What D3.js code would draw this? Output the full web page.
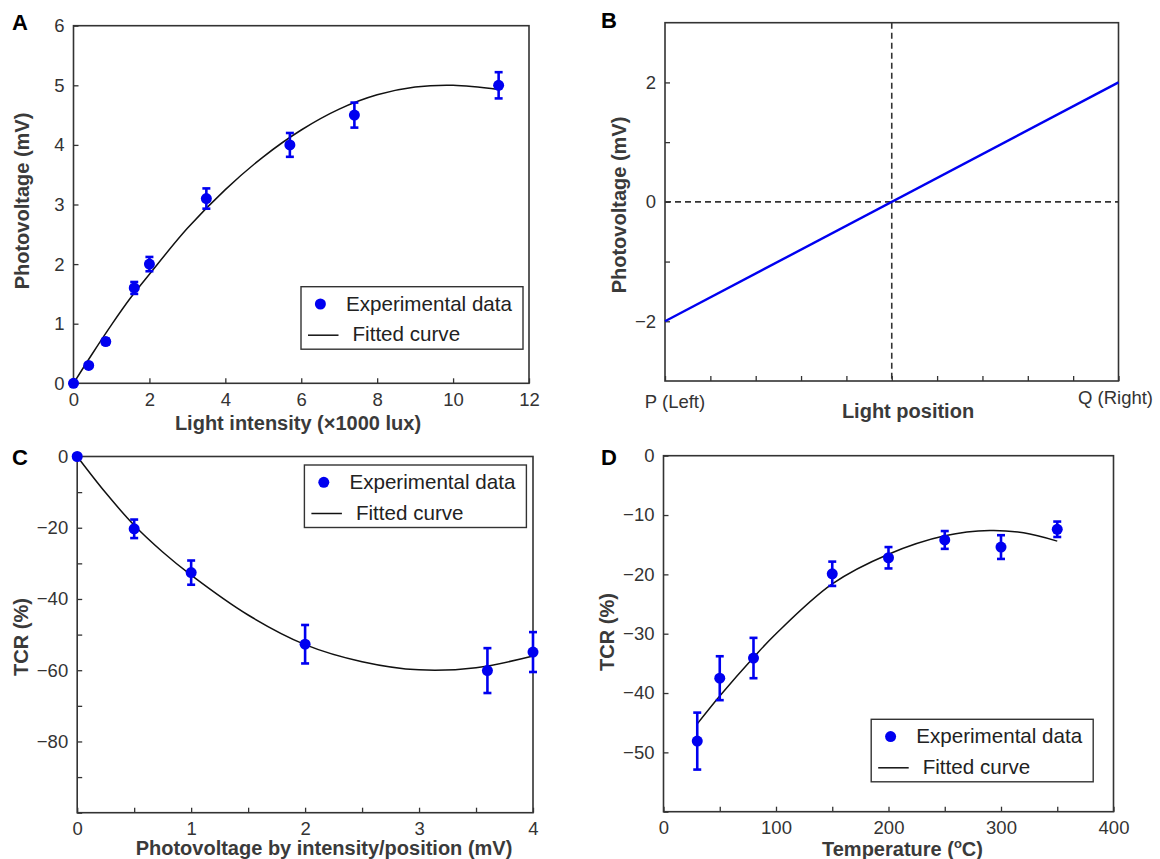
<!DOCTYPE html>
<html>
<head>
<meta charset="utf-8">
<script src="https://cdn.jsdelivr.net/npm/d3@7"></script>
<style>
  body { margin: 0; background: #fff; }
  svg { display: block; font-family: "Liberation Sans", Arial, sans-serif; }
  .tick text { fill: #333; font-size: 18.5px; }
  .tick line { stroke: #333; stroke-width: 1.3; }
  .domain { display: none; }
  .frame { fill: none; stroke: #333; stroke-width: 1.6; }
  .title { font-weight: bold; font-size: 20px; fill: #3a3a3a; }
  .letter { font-weight: bold; font-size: 22px; fill: #000; }
  .legend text { font-size: 20.6px; fill: #222; }
</style>
</head>
<body>
<div class="figure"></div>
<script>
const W = 1160, H = 859;
const BLUE = '#0000f0';

// A: photovoltage vs light intensity
const aLight = [0, 0.4, 0.85, 1.6, 2, 3.5, 5.7, 7.4, 11.2];
const aVolt  = [0, 0.3, 0.7, 1.6, 2.0, 3.1, 4.0, 4.5, 5.0];
const aErr   = [0, 0, 0.05, 0.1, 0.12, 0.17, 0.2, 0.21, 0.22];
const aFitX  = [0, 0.5, 1, 1.5, 2, 3, 4, 5, 6, 7, 8, 9, 10, 11.2];
const aFitY  = [0, 0.5, 0.98, 1.43, 1.83, 2.6, 3.25, 3.8, 4.25, 4.6, 4.84, 4.97, 5.0, 4.93];

// B: photovoltage vs light position
const bPos  = [0, 10];
const bVolt = [-2, 2];

// C: TCR vs photovoltage
const cVolt = [0, 0.5, 1, 2, 3.6, 4];
const cTcr  = [0, -20.3, -32.6, -52.7, -60.1, -54.9];
const cErr  = [0, 2.6, 3.4, 5.4, 6.3, 5.6];
const cFitX = [0, 0.25, 0.5, 0.75, 1, 1.5, 2, 2.5, 3, 3.5, 4];
const cFitY = [0, -10.2, -19.3, -26.8, -33.3, -44.5, -52.8, -57.6, -59.9, -59.3, -56];

// D: TCR vs temperature
const dTemp = [30, 50, 80, 150, 200, 250, 300, 350];
const dTcr  = [-48.1, -37.5, -34.1, -19.9, -17.2, -14.2, -15.4, -12.4];
const dErr  = [4.8, 3.7, 3.4, 2.05, 1.8, 1.5, 2.0, 1.3];
const dFitX = [30, 50, 80, 100, 150, 200, 250, 290, 320, 350];
const dFitY = [-45.2, -40.5, -34, -30, -21.6, -16.6, -13.5, -12.6, -13, -14.4];

const minus = s => String(s).replace('-', '\u2212');

const svg = d3.select('.figure')
    .append('svg')
    .attr('width', W)
    .attr('height', H)

svg.append('rect').attr('width', W).attr('height', H).attr('fill', '#fff')

const panel = cfg => {
    const x = d3.scaleLinear().domain(cfg.xDomain).range(cfg.xRange)
    const y = d3.scaleLinear().domain(cfg.yDomain).range(cfg.yRange)
    const g = svg.append('g')

    g.append('g')
        .attr('transform', `translate(0,${cfg.yRange[0]})`)
        .call(d3.axisBottom(x).tickValues(cfg.xTicks).tickSize(-5).tickSizeOuter(0).tickPadding(9.5)
            .tickFormat(d => cfg.xLabels.includes(d) ? minus(d) : ''))

    g.append('g')
        .attr('transform', `translate(${cfg.xRange[0]},0)`)
        .call(d3.axisLeft(y).tickValues(cfg.yTicks).tickSize(-5).tickSizeOuter(0).tickPadding(9)
            .tickFormat(d => cfg.yLabels.includes(d) ? minus(d) : ''))

    g.append('rect')
        .attr('class', 'frame')
        .attr('x', cfg.xRange[0])
        .attr('y', cfg.yRange[1])
        .attr('width', cfg.xRange[1] - cfg.xRange[0])
        .attr('height', cfg.yRange[0] - cfg.yRange[1])

    g.append('text').attr('class', 'letter')
        .attr('x', cfg.letterPos[0]).attr('y', cfg.letterPos[1]).text(cfg.letter)

    g.append('text').attr('class', 'title')
        .attr('text-anchor', 'middle')
        .attr('transform', `translate(${cfg.yTitlePos[0]},${cfg.yTitlePos[1]}) rotate(-90)`)
        .attr('dy', '0.35em')
        .text(cfg.yTitle)

    const xt = g.append('text').attr('class', 'title')
        .attr('text-anchor', 'middle')
        .attr('x', cfg.xTitlePos[0]).attr('y', cfg.xTitlePos[1])
    if (cfg.xTitleSup) {
        xt.append('tspan').text(cfg.xTitle[0])
        xt.append('tspan').attr('font-size', '13px').attr('dy', -8).text(cfg.xTitleSup)
        xt.append('tspan').attr('dy', 8).text(cfg.xTitle[1])
    } else {
        xt.text(cfg.xTitle)
    }
    return { g, x, y }
}

const errorPoints = (p, xs, ys, es) => {
    const pts = xs.map((d, i) => ({ x: d, y: ys[i], e: es[i] }))
    const bars = p.g.append('g')
        .selectAll()
        .data(pts.filter(d => d.e > 0))
        .enter()
        .append('g')
        .attr('stroke', BLUE)
        .attr('stroke-width', 2.6)
    bars.append('line')
        .attr('x1', d => p.x(d.x)).attr('x2', d => p.x(d.x))
        .attr('y1', d => p.y(d.y - d.e)).attr('y2', d => p.y(d.y + d.e))
    bars.append('line')
        .attr('x1', d => p.x(d.x) - 4).attr('x2', d => p.x(d.x) + 4)
        .attr('y1', d => p.y(d.y + d.e)).attr('y2', d => p.y(d.y + d.e))
    bars.append('line')
        .attr('x1', d => p.x(d.x) - 4).attr('x2', d => p.x(d.x) + 4)
        .attr('y1', d => p.y(d.y - d.e)).attr('y2', d => p.y(d.y - d.e))
    p.g.append('g')
        .selectAll()
        .data(pts)
        .enter()
        .append('circle')
        .attr('cx', d => p.x(d.x))
        .attr('cy', d => p.y(d.y))
        .attr('r', 5.5)
        .attr('fill', BLUE)
}

const fitCurve = (p, xs, ys) => {
    const line = d3.line()
        .x(d => p.x(d[0]))
        .y(d => p.y(d[1]))
        .curve(d3.curveCatmullRom)
    p.g.append('path')
        .attr('d', line(xs.map((d, i) => [d, ys[i]])))
        .attr('fill', 'none')
        .attr('stroke', '#111')
        .attr('stroke-width', 1.5)
}

const legend = (left, top) => {
    const lg = svg.append('g').attr('class', 'legend').attr('transform', `translate(${left},${top})`)
    lg.append('rect').attr('width', 222).attr('height', 62.5)
        .attr('fill', '#fff').attr('stroke', '#333').attr('stroke-width', 1.4)
    lg.append('circle').attr('cx', 19.4).attr('cy', 17.3).attr('r', 5.5).attr('fill', BLUE)
    lg.append('text').attr('x', 45).attr('y', 24).text('Experimental data')
    lg.append('line').attr('x1', 7).attr('x2', 37.5).attr('y1', 48.5).attr('y2', 48.5)
        .attr('stroke', '#111').attr('stroke-width', 1.5)
    lg.append('text').attr('x', 51.5).attr('y', 54.7).text('Fitted curve')
}

// Panel A
const pA = panel({
    xDomain: [0, 12], xRange: [73.5, 529],
    yDomain: [0, 6], yRange: [383.3, 25.7],
    xTicks: d3.range(0, 13, 2), xLabels: d3.range(0, 13, 2),
    yTicks: d3.range(0, 7), yLabels: d3.range(0, 7),
    letter: 'A', letterPos: [12, 30],
    yTitle: 'Photovoltage (mV)', yTitlePos: [22, 201],
    xTitle: 'Light intensity (\u00d71000 lux)', xTitlePos: [298, 430]
})
fitCurve(pA, aFitX, aFitY)
errorPoints(pA, aLight, aVolt, aErr)
legend(301, 286.7)

// Panel B
const pB = panel({
    xDomain: [0, 10], xRange: [665, 1118.5],
    yDomain: [-3, 3], yRange: [381, 22.7],
    xTicks: d3.range(0, 11), xLabels: [],
    yTicks: [-2, -1, 0, 1, 2], yLabels: [-2, 0, 2],
    letter: 'B', letterPos: [601, 28],
    yTitle: 'Photovoltage (mV)', yTitlePos: [619, 205],
    xTitle: 'Light position', xTitlePos: [908, 418]
})
pB.g.append('line')
    .attr('x1', pB.x(5)).attr('x2', pB.x(5))
    .attr('y1', pB.y(3)).attr('y2', pB.y(-3))
    .attr('stroke', '#333').attr('stroke-width', 1.6).attr('stroke-dasharray', '6,4')
pB.g.append('line')
    .attr('x1', pB.x(0)).attr('x2', pB.x(10))
    .attr('y1', pB.y(0)).attr('y2', pB.y(0))
    .attr('stroke', '#333').attr('stroke-width', 1.6).attr('stroke-dasharray', '6,4')
pB.g.append('path')
    .attr('d', d3.line().x(d => pB.x(d[0])).y(d => pB.y(d[1]))(bPos.map((d, i) => [d, bVolt[i]])))
    .attr('stroke', BLUE).attr('stroke-width', 2.4).attr('fill', 'none')
pB.g.append('text').attr('text-anchor', 'middle')
    .attr('x', pB.x(0) + 10).attr('y', 408)
    .attr('fill', '#333').attr('font-size', '18.5px').text('P (Left)')
pB.g.append('text').attr('text-anchor', 'middle')
    .attr('x', pB.x(10) - 3).attr('y', 404)
    .attr('fill', '#333').attr('font-size', '18.5px').text('Q (Right)')

// Panel C
const pC = panel({
    xDomain: [0, 4], xRange: [77.2, 533],
    yDomain: [-100, 0], yRange: [812.7, 456.5],
    xTicks: d3.range(0, 4.01, 0.5), xLabels: [0, 1, 2, 3, 4],
    yTicks: d3.range(-100, 1, 10), yLabels: [0, -20, -40, -60, -80],
    letter: 'C', letterPos: [12, 465],
    yTitle: 'TCR (%)', yTitlePos: [21, 637],
    xTitle: 'Photovoltage by intensity/position (mV)', xTitlePos: [324, 855]
})
fitCurve(pC, cFitX, cFitY)
errorPoints(pC, cVolt, cTcr, cErr)
legend(304.4, 465)

// Panel D
const pD = panel({
    xDomain: [0, 400], xRange: [663.5, 1113.5],
    yDomain: [-60, 0], yRange: [811.7, 455.7],
    xTicks: d3.range(0, 401, 50), xLabels: [0, 100, 200, 300, 400],
    yTicks: d3.range(-60, 1, 10), yLabels: [0, -10, -20, -30, -40, -50],
    letter: 'D', letterPos: [601, 465],
    yTitle: 'TCR (%)', yTitlePos: [607, 632],
    xTitle: ['Temperature (', 'C)'], xTitleSup: 'o', xTitlePos: [902.5, 855.5]
})
fitCurve(pD, dFitX, dFitY)
errorPoints(pD, dTemp, dTcr, dErr)
legend(871.2, 719.3)
</script>
</body>
</html>
